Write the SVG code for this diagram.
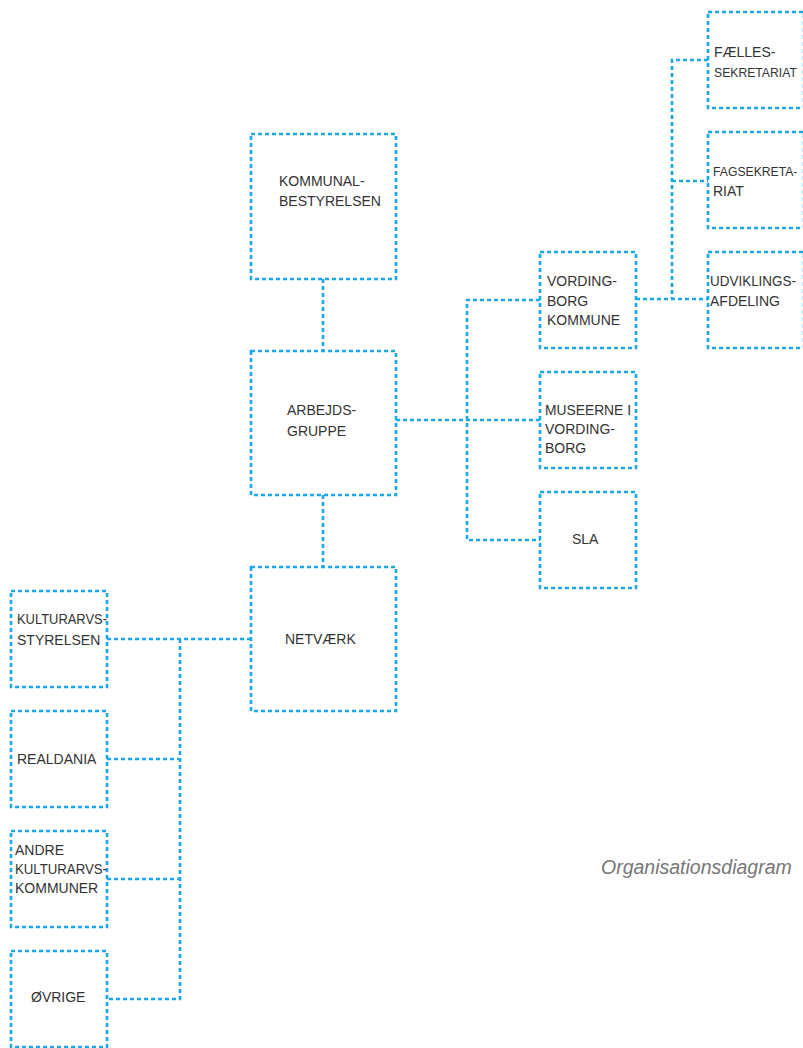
<svg xmlns="http://www.w3.org/2000/svg" width="803" height="1048" viewBox="0 0 803 1048">
<style>
.box{fill:none;stroke:#1aa8e8;stroke-width:2.6;stroke-dasharray:4 3}
.con{fill:none;stroke:#1aa8e8;stroke-width:2.6;stroke-dasharray:4 3}
.t{font-family:"Liberation Sans",Arial,sans-serif;font-size:14px;fill:#333}
.s{font-size:12.2px}
.cap{font-family:"Liberation Sans",Arial,sans-serif;font-size:19.5px;font-style:italic;fill:#777}
</style>
<rect width="803" height="1048" fill="#fff"/>
<g id="connectors">
<path class="con" d="M323 279V351"/>
<path class="con" d="M323 495V567"/>
<path class="con" d="M396 420H540"/>
<path class="con" d="M540 300H467V540H540"/>
<path class="con" d="M636 299H708"/>
<path class="con" d="M708 60H672V299"/>
<path class="con" d="M672 181H708"/>
<path class="con" d="M251 639H107"/>
<path class="con" d="M180 639V999H107"/>
<path class="con" d="M107 759H180"/>
<path class="con" d="M107 879H180"/>
</g>
<g id="kommunalbestyrelsen"><rect class="box" x="251" y="134" width="145" height="145"/><text class="t" x="279" y="186">KOMMUNAL-</text><text class="t" x="279" y="206">BESTYRELSEN</text></g>
<g id="arbejdsgruppe"><rect class="box" x="251" y="351" width="145" height="144"/><text class="t" x="287" y="415">ARBEJDS-</text><text class="t" x="287" y="436">GRUPPE</text></g>
<g id="netvaerk"><rect class="box" x="251" y="567" width="145" height="144"/><text class="t" x="285" y="644">NETVÆRK</text></g>
<g id="vordingborg-kommune"><rect class="box" x="540" y="252" width="96" height="96"/><text class="t" x="547" y="286">VORDING-</text><text class="t" x="547" y="306">BORG</text><text class="t" x="547" y="325">KOMMUNE</text></g>
<g id="museerne"><rect class="box" x="540" y="372" width="96" height="96"/><text class="t" x="545" y="415" textLength="86" lengthAdjust="spacingAndGlyphs">MUSEERNE I</text><text class="t" x="545" y="434">VORDING-</text><text class="t" x="545" y="453">BORG</text></g>
<g id="sla"><rect class="box" x="540" y="492" width="96" height="96"/><text class="t" x="572" y="544">SLA</text></g>
<g id="faellessekretariat"><rect class="box" x="708" y="12" width="96" height="96"/><text class="t" x="714" y="57">FÆLLES-</text><text class="t s" x="714" y="77">SEKRETARIAT</text></g>
<g id="fagsekretariat"><rect class="box" x="708" y="132" width="96" height="96"/><text class="t s" x="713" y="176">FAGSEKRETA-</text><text class="t" x="713" y="196">RIAT</text></g>
<g id="udviklingsafdeling"><rect class="box" x="708" y="252" width="96" height="96"/><text class="t" x="710" y="286" textLength="86" lengthAdjust="spacingAndGlyphs">UDVIKLINGS-</text><text class="t" x="710" y="306">AFDELING</text></g>
<g id="kulturarvsstyrelsen"><rect class="box" x="11" y="591" width="96" height="96"/><text class="t" x="17" y="624" textLength="90" lengthAdjust="spacingAndGlyphs">KULTURARVS-</text><text class="t" x="17" y="645">STYRELSEN</text></g>
<g id="realdania"><rect class="box" x="11" y="711" width="96" height="96"/><text class="t" x="17" y="764">REALDANIA</text></g>
<g id="andre"><rect class="box" x="11" y="831" width="96" height="96"/><text class="t" x="15" y="855">ANDRE</text><text class="t" x="15" y="874" textLength="92" lengthAdjust="spacingAndGlyphs">KULTURARVS-</text><text class="t" x="15" y="893">KOMMUNER</text></g>
<g id="oevrige"><rect class="box" x="11" y="951" width="96" height="96"/><text class="t" x="31" y="1002">ØVRIGE</text></g>
<text class="cap" x="601" y="874">Organisationsdiagram</text>
</svg>
